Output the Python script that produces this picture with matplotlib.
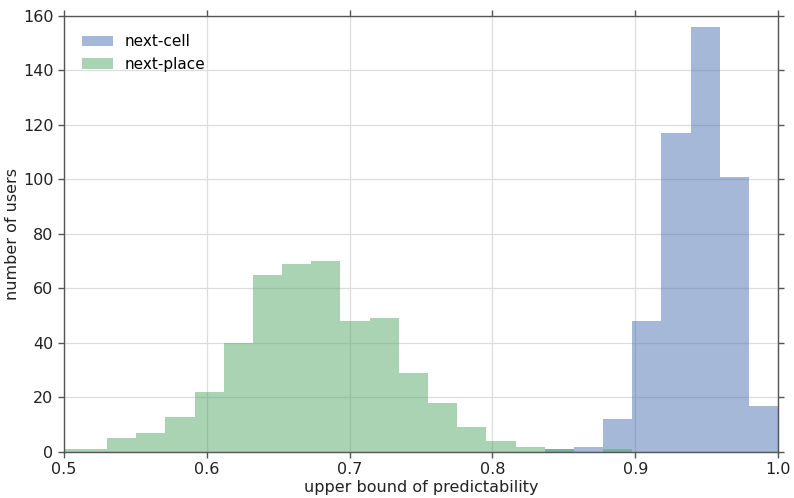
import numpy as np
import matplotlib
matplotlib.use("Agg")
import matplotlib.pyplot as plt

# shared bin edges of the two histograms
bin_lo = 0.4893
bin_hi = 1.0
n_bins = 25

# users per bin
next_cell = [0, 0, 0, 0, 0, 0, 0, 0, 0, 0, 0, 0, 0, 0, 0, 0, 0,
             1, 2, 12, 48, 117, 156, 101, 17]
next_place = [1, 1, 5, 7, 13, 22, 40, 65, 69, 70, 48, 49, 29, 18, 9, 4, 2,
              1, 0, 1, 0, 0, 0, 0, 0]

edges = np.linspace(bin_lo, bin_hi, n_bins + 1)

plt.rcParams['font.family'] = ['DejaVu Sans']
fig = plt.figure(figsize=(7.94, 4.98), dpi=100)
ax = fig.add_axes([0.0806, 0.0924, 0.8994, 0.8755])

ax.hist(edges[:-1], bins=edges, weights=next_cell, color='#4C72B0', alpha=0.5,
        histtype='stepfilled', label='next-cell')
ax.hist(edges[:-1], bins=edges, weights=next_place, color='#55A868', alpha=0.5,
        histtype='stepfilled', label='next-place')

ax.set_xlim(0.5, 1.0)
ax.set_ylim(0, 160)
ax.set_xticks([0.5, 0.6, 0.7, 0.8, 0.9, 1.0])
ax.set_yticks(range(0, 161, 20))
ax.grid(True, color='#dddddd', linewidth=0.9)
ax.set_axisbelow(True)

for s in ax.spines.values():
    s.set_color('#555555')
    s.set_linewidth(1.0)
ax.tick_params(direction='out', length=4, width=1, color='#555555',
               top=True, right=True, labelsize=11.5, labelcolor='#222222')

ax.set_xlabel('upper bound of predictability', fontsize=11.5, color='#222222', labelpad=2)
ax.set_ylabel('number of users', fontsize=11.5, color='#222222', labelpad=2)
ax.legend(loc='upper left', frameon=False, fontsize=11, borderaxespad=0.8)

fig.savefig('out.png', dpi=100)
